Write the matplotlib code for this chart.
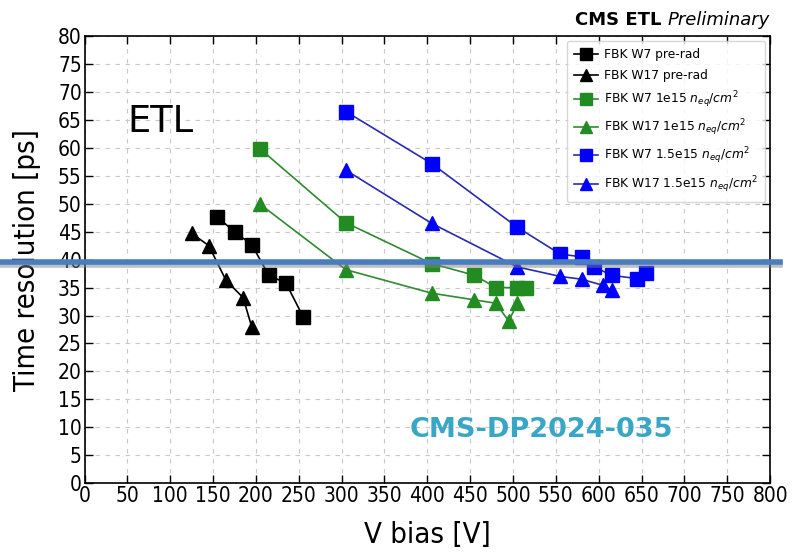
import matplotlib
matplotlib.use("Agg")
import matplotlib.pyplot as plt
import matplotlib.patheffects as pe
from matplotlib.lines import Line2D
from matplotlib.transforms import blended_transform_factory

# data
w7_pre_x = [155, 175, 195, 215, 235, 255]
w7_pre_y = [47.6, 45.0, 42.7, 37.2, 35.8, 29.8]
w17_pre_x = [125, 145, 165, 185, 195]
w17_pre_y = [44.7, 42.5, 36.3, 33.2, 28.0]

w7_1e15_x = [205, 305, 405, 455, 480, 505, 515]
w7_1e15_y = [59.8, 46.6, 39.3, 37.2, 35.0, 35.0, 35.0]
w17_1e15_x = [205, 305, 405, 455, 480, 495, 505]
w17_1e15_y = [49.9, 38.2, 34.0, 32.8, 32.2, 29.0, 32.2]

w7_15e15_x = [305, 405, 505, 555, 580, 595, 615, 645, 655]
w7_15e15_y = [66.5, 57.2, 45.8, 41.0, 40.5, 38.7, 37.2, 36.6, 37.6]
w17_15e15_x = [305, 405, 505, 555, 580, 605, 615]
w17_15e15_y = [56.0, 46.5, 38.7, 37.0, 36.5, 35.4, 34.5]

target_ps = 39.5

xticks = list(range(0, 801, 50))
yticks = list(range(0, 81, 5))

narrow = dict(family="DejaVu Sans", stretch="condensed")

fig = plt.figure(figsize=(7.98, 5.56), dpi=100)
ax = fig.add_axes([0.106, 0.131, 0.859, 0.804])

series = [
    (w7_pre_x, w7_pre_y, "s", "black", "black", "FBK W7 pre-rad"),
    (w17_pre_x, w17_pre_y, "^", "black", "black", "FBK W17 pre-rad"),
    (w7_1e15_x, w7_1e15_y, "s", "#2e8b2e", "#228b22", r"FBK W7 1e15 $n_{eq}/cm^2$"),
    (w17_1e15_x, w17_1e15_y, "^", "#2e8b2e", "#228b22", r"FBK W17 1e15 $n_{eq}/cm^2$"),
    (w7_15e15_x, w7_15e15_y, "s", "#2a2ab0", "#0000ff", r"FBK W7 1.5e15 $n_{eq}/cm^2$"),
    (w17_15e15_x, w17_15e15_y, "^", "#2a2ab0", "#0000ff", r"FBK W17 1.5e15 $n_{eq}/cm^2$"),
]
for xs, ys, m, lc, mc, lab in series:
    ax.plot(xs, ys, color=lc, lw=1.2, marker=m, ms=10, mfc=mc, mec=mc, label=lab, zorder=3)

ax.set_xlim(0, 800)
ax.set_ylim(0, 80)
ax.set_xticks(xticks)
ax.set_yticks(yticks)
ax.set_xticklabels([str(v) for v in xticks], fontsize=15, **narrow)
ax.set_yticklabels([str(v) for v in yticks], fontsize=15, **narrow)
ax.tick_params(direction="in", top=True, right=True, length=6, width=1, pad=2)
ax.grid(True, ls=(0, (4, 5)), color="#c8c8c8", lw=0.8)
for s in ax.spines.values():
    s.set_linewidth(1.2)

ax.set_xlabel("V bias [V]", fontsize=21, labelpad=11, **narrow)
ax.set_ylabel("Time resolution [ps]", fontsize=21, labelpad=12, **narrow)

leg = ax.legend(loc="upper right", frameon=True, fancybox=True,
                borderpad=0.6, labelspacing=0.62, handlelength=1.9, handletextpad=0.5,
                borderaxespad=0.4, markerscale=0.9, prop=dict(family="DejaVu Sans", size=8.8))
leg.get_frame().set_edgecolor("#cccccc")

# header
t2 = ax.text(1.0, 1.015, "Preliminary", transform=ax.transAxes, ha="right", va="bottom",
             fontsize=13, style="italic")
ax.annotate("CMS ETL ", xy=(0, 0), xycoords=t2, ha="right", va="bottom",
            fontsize=13, fontweight="bold")

ax.text(0.062, 0.81, "ETL", transform=ax.transAxes, fontsize=26.5, ha="left", va="center")
ax.text(0.667, 0.119, "CMS-DP2024-035", transform=ax.transAxes, fontsize=19.5,
        fontweight="bold", color="#3aa6c6", ha="center", va="center")

# thick reference line across the whole figure
tr = blended_transform_factory(fig.transFigure, ax.transData)
hl = Line2D([0, 0.977], [target_ps, target_ps], transform=tr, color="#4a7cc0", lw=4,
            zorder=10, clip_on=False,
            path_effects=[pe.SimpleLineShadow(offset=(0, -2), shadow_color="gray", alpha=0.5), pe.Normal()])
fig.add_artist(hl)

fig.savefig("out.png", dpi=100)
